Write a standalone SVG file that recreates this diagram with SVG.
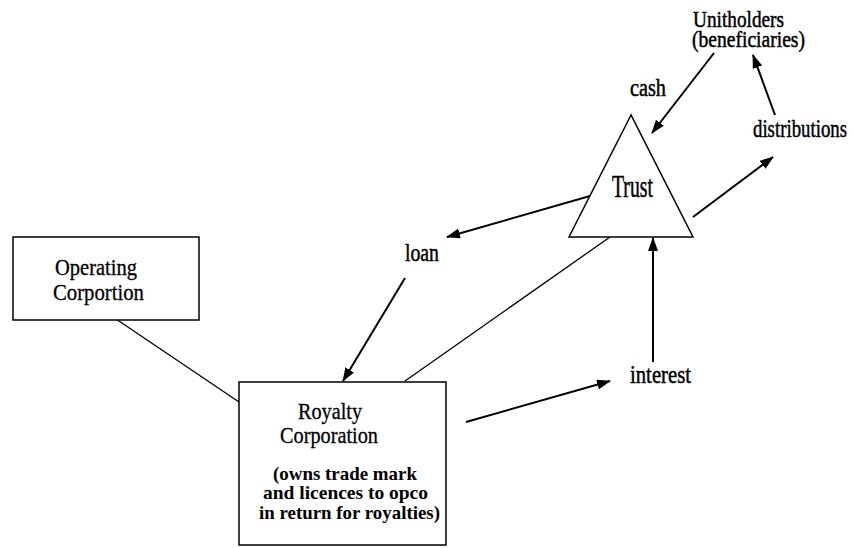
<svg xmlns="http://www.w3.org/2000/svg" width="853" height="548" viewBox="0 0 853 548" font-family="Liberation Serif, Times New Roman, serif">
<style>
text{font-family:'Liberation Serif','Times New Roman',serif;fill:#000}
.lbl{stroke:#000;stroke-width:0.5}
.box{font-size:23px;stroke:#000;stroke-width:0.3}
.small{font-size:19px;font-weight:bold}
.node{fill:#fff;stroke:#000;stroke-width:1.5}
.arrow{stroke:#000;stroke-width:2;fill:none;marker-end:url(#ah)}
.plain{stroke:#000;stroke-width:1.3;fill:none}
</style>
<defs>
<marker id="ah" viewBox="0 0 14 10" refX="13" refY="5" markerWidth="14" markerHeight="10" markerUnits="userSpaceOnUse" orient="auto">
<path d="M0,0 L14,5 L0,10 Z" fill="#000"/>
</marker>
</defs>
<rect width="853" height="548" fill="#fff"/>
<g id="connectors">
<line class="plain" x1="116" y1="319" x2="239" y2="402"/>
<line class="plain" x1="610" y1="237" x2="405" y2="381"/>
<line class="arrow" x1="590" y1="196" x2="447" y2="237"/>
<line class="arrow" x1="405" y1="278" x2="343" y2="381"/>
<line class="arrow" x1="466" y1="422" x2="610" y2="381"/>
<line class="arrow" x1="653" y1="362" x2="653" y2="238"/>
<line class="arrow" x1="693" y1="217" x2="773" y2="157"/>
<line class="arrow" x1="775" y1="115" x2="753" y2="55"/>
<line class="arrow" x1="714" y1="53" x2="652" y2="133"/>
</g>
<g id="operating">
<rect class="node" x="13" y="237" width="186" height="83"/>
<text class="box" x="55" y="275" textLength="82" lengthAdjust="spacingAndGlyphs">Operating</text>
<text class="box" x="53" y="300" textLength="91" lengthAdjust="spacingAndGlyphs">Corportion</text>
</g>
<g id="royalty">
<rect class="node" x="239" y="382" width="207" height="163"/>
<text class="box" x="298" y="419" textLength="64" lengthAdjust="spacingAndGlyphs">Royalty</text>
<text class="box" x="280" y="443" textLength="98" lengthAdjust="spacingAndGlyphs">Corporation</text>
<text class="small" x="273" y="480" textLength="144" lengthAdjust="spacingAndGlyphs">(owns trade mark</text>
<text class="small" x="263" y="499" textLength="165" lengthAdjust="spacingAndGlyphs">and licences to opco</text>
<text class="small" x="259" y="519" textLength="181" lengthAdjust="spacingAndGlyphs">in return for royalties)</text>
</g>
<g id="trust">
<polygon class="node" points="631,115 569,237 693,237"/>
<text class="lbl" font-size="31" x="612" y="197" textLength="41" lengthAdjust="spacingAndGlyphs">Trust</text>
</g>
<g id="unitholders">
<text class="lbl" font-size="24" x="693" y="27" textLength="91" lengthAdjust="spacingAndGlyphs">Unitholders</text>
<text class="lbl" font-size="23" x="692" y="47" textLength="113" lengthAdjust="spacingAndGlyphs">(beneficiaries)</text>
</g>
<g id="cash"><text class="lbl" font-size="25" x="630" y="96" textLength="36" lengthAdjust="spacingAndGlyphs">cash</text></g>
<g id="distributions"><text class="lbl" font-size="26" x="753" y="137" textLength="94" lengthAdjust="spacingAndGlyphs">distributions</text></g>
<g id="loan"><text class="lbl" font-size="26" x="405" y="261" textLength="34" lengthAdjust="spacingAndGlyphs">loan</text></g>
<g id="interest"><text class="lbl" font-size="26" x="630" y="383" textLength="61" lengthAdjust="spacingAndGlyphs">interest</text></g>
</svg>
